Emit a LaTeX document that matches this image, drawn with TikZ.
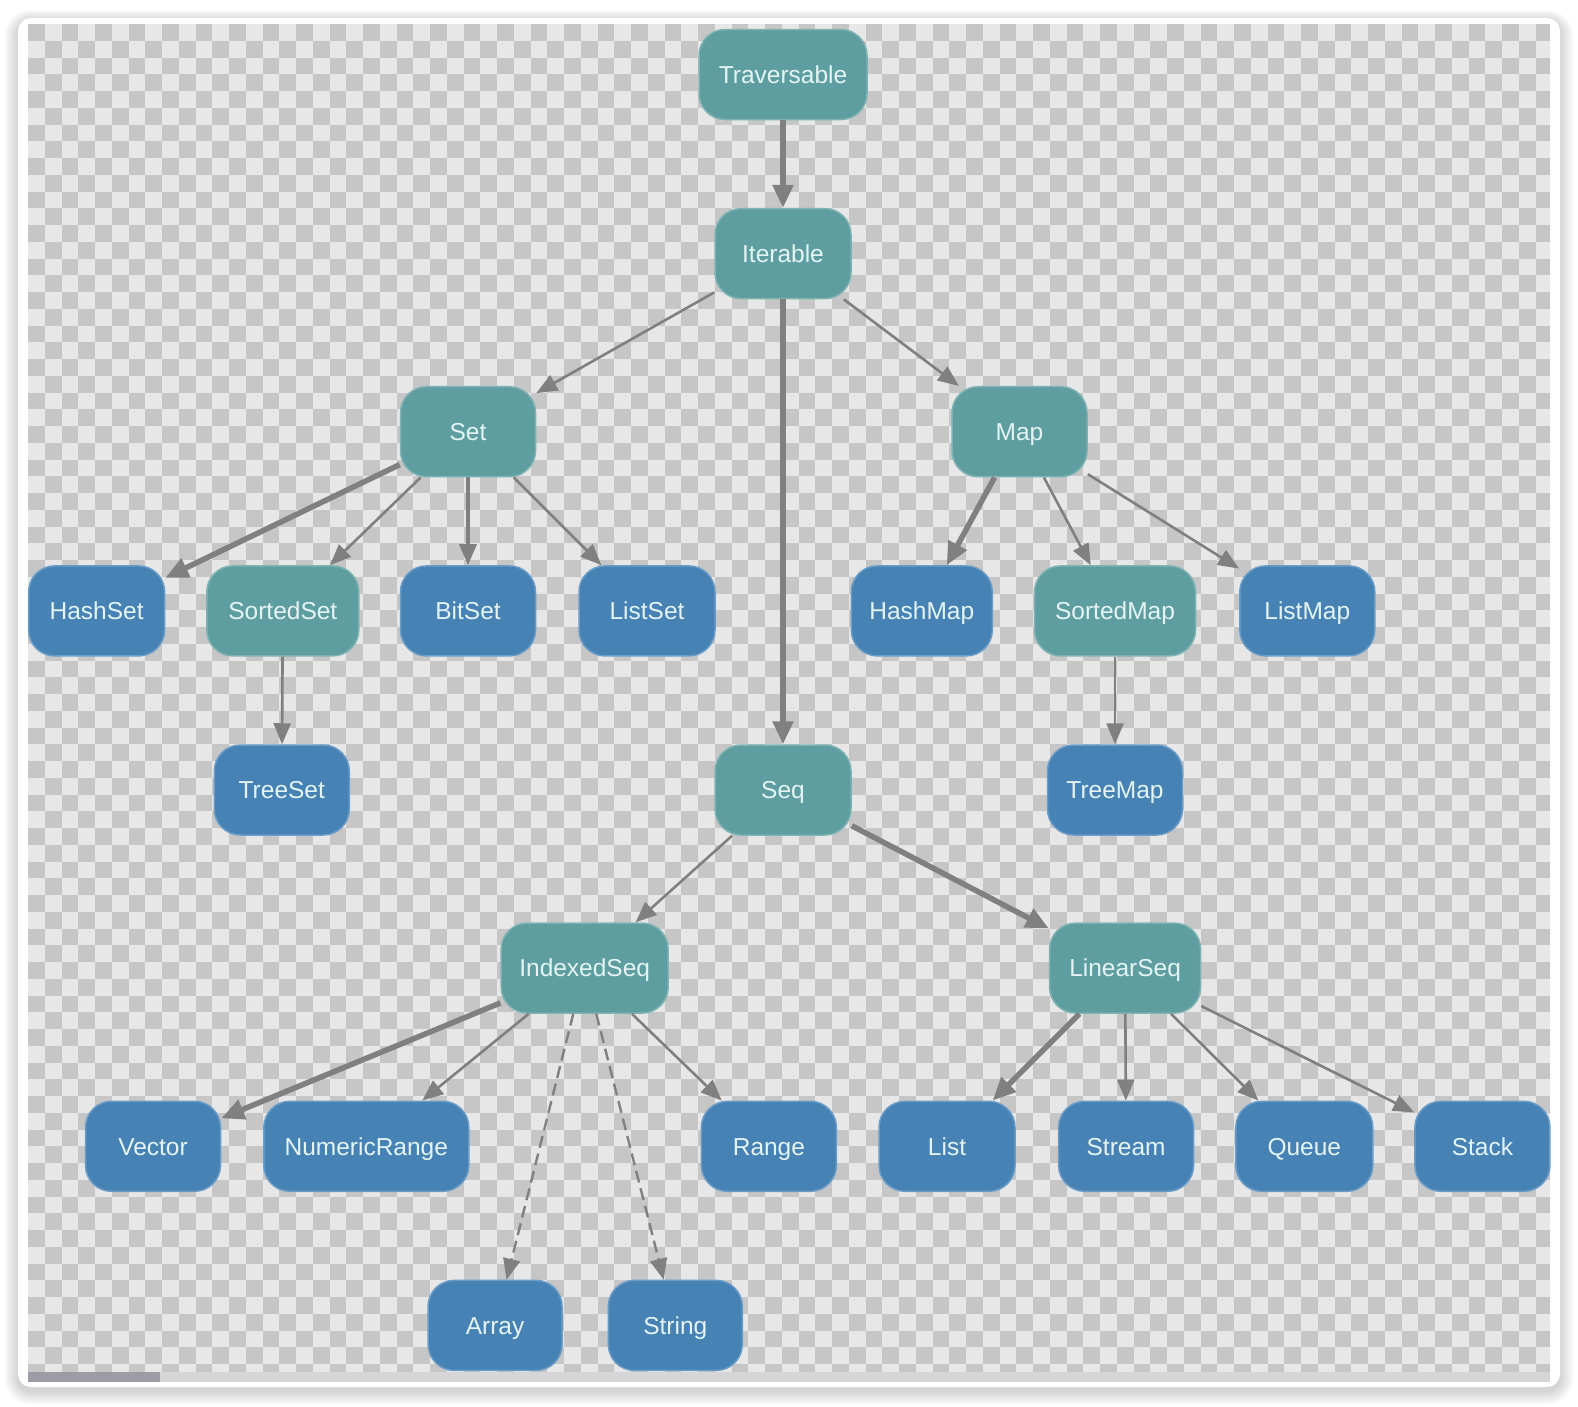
\documentclass[tikz,border=0pt]{standalone}
\usepackage{fontspec}
\setmainfont{Liberation Sans}
\usetikzlibrary{arrows.meta}

\definecolor{tealnode}{HTML}{5F9EA0}
\definecolor{tealedge}{HTML}{7FB3B3}
\definecolor{bluenode}{HTML}{4682B4}
\definecolor{blueedge}{HTML}{6A9CC8}
\definecolor{labeltext}{HTML}{E4F4F4}
\definecolor{linkgrey}{HTML}{808080}
\definecolor{checklight}{HTML}{E7E7E7}
\definecolor{checkdark}{HTML}{C6C6C6}
\definecolor{scrolltrack}{HTML}{D6D6D8}
\definecolor{scrollthumb}{HTML}{9C9CA6}

\tikzset{
  box/.style={rounded corners=26pt, minimum height=90pt, inner sep=0pt,
    line width=1.5pt, text=labeltext,
    text height=17.6pt, text depth=0pt,
    font=\fontsize{24.5}{28}\selectfont},
  traitbox/.style={box, fill=tealnode, draw=tealedge},
  classbox/.style={box, fill=bluenode, draw=blueedge},
  link/.style={draw=linkgrey, line width=2.6pt,
    -{Triangle[length=21pt,width=17pt]}},
  boldlink/.style={link, line width=5.5pt,
    -{Triangle[length=23pt,width=20pt]}},
  midlink/.style={link, line width=3.4pt},
  dashlink/.style={link, line width=2.4pt, dash pattern=on 12pt off 6pt},
}

\begin{document}
\begin{tikzpicture}[x=1pt,y=-1pt]
\useasboundingbox (0,0) rectangle (1578,1406);
\fill[white] (0,0) rectangle (1578,1406);

% soft shadow under the card
\foreach \k in {1,...,14}{
  \fill[black,opacity=0.011,rounded corners={(13+\k)*1pt}]
    ({18-\k},{21-\k*0.8}) rectangle ({1560+\k},{1391+\k});
}
% card
\fill[white,rounded corners=13pt] (18,18) rectangle (1560,1387);

% transparency checkerboard
\begin{scope}
  \clip (28,24) rectangle (1550,1372);
  \fill[checklight] (28,24) rectangle (1550,1372);
  \foreach \j in {0,...,80}{
    \foreach \i in {0,2,...,90}{
      \fill[checkdark] ({28+(\i+mod(\j,2))*16.75},{24+\j*16.75})
        rectangle +(16.75,16.75);
    }
  }
\end{scope}

% scroll bar
\fill[scrolltrack] (28,1372) rectangle (1550,1382);
\fill[scrollthumb] (28,1372) rectangle (160,1382);

% hierarchy
\node[traitbox, minimum width=168pt] (trav) at (783,74.5) {Traversable};
\node[traitbox, minimum width=136pt] (iter) at (783,253.6) {Iterable};

\node[traitbox, minimum width=135pt] (set) at (468,431.7) {Set};
\node[traitbox, minimum width=135pt] (map) at (1019.5,431.7) {Map};

\node[classbox, minimum width=136pt] (hashset) at (96.6,610.9) {HashSet};
\node[traitbox, minimum width=152pt] (sortedset) at (282.8,610.9) {SortedSet};
\node[classbox, minimum width=135pt] (bitset) at (468,610.9) {BitSet};
\node[classbox, minimum width=136pt] (listset) at (647,610.9) {ListSet};
\node[classbox, minimum width=141pt] (hashmap) at (921.8,610.9) {HashMap};
\node[traitbox, minimum width=161pt] (sortedmap) at (1115,610.9) {SortedMap};
\node[classbox, minimum width=135pt] (listmap) at (1307.3,610.9) {ListMap};

\node[classbox, minimum width=135pt] (treeset) at (281.8,790) {TreeSet};
\node[traitbox, minimum width=136pt] (seq) at (783,790) {Seq};
\node[classbox, minimum width=135pt] (treemap) at (1115,790) {TreeMap};

\node[traitbox, minimum width=167pt] (indexed) at (584.7,968.1) {IndexedSeq};
\node[traitbox, minimum width=151pt] (linear) at (1125.1,968.1) {LinearSeq};

\node[classbox, minimum width=135pt] (vector) at (153,1146.3) {Vector};
\node[classbox, minimum width=205pt] (numrange) at (366.3,1146.3) {NumericRange};
\node[classbox, minimum width=135pt] (range) at (768.9,1146.3) {Range};
\node[classbox, minimum width=136pt] (list) at (947,1146.3) {List};
\node[classbox, minimum width=135pt] (stream) at (1126.1,1146.3) {Stream};
\node[classbox, minimum width=137pt] (queue) at (1304.3,1146.3) {Queue};
\node[classbox, minimum width=135pt] (stack) at (1482.4,1146.3) {Stack};

\node[classbox, minimum width=134pt] (array) at (495.1,1325.4) {Array};
\node[classbox, minimum width=134pt] (string) at (675.3,1325.4) {String};

% inheritance links
\draw[boldlink] (trav) -- (iter);
\draw[link] (iter) -- (set);
\draw[link] (iter) -- (map);
\draw[boldlink] (iter) -- (seq);

\draw[boldlink] (set) -- (hashset);
\draw[link] (set) -- (sortedset);
\draw[midlink] (set) -- (bitset);
\draw[link] (set) -- (listset);
\draw[link] (sortedset) -- (treeset);

\draw[boldlink] (map) -- (hashmap);
\draw[link] (map) -- (sortedmap);
\draw[link] (map) -- (listmap);
\draw[link] (sortedmap) -- (treemap);

\draw[link] (seq) -- (indexed);
\draw[boldlink] (seq) -- (linear);

\draw[boldlink] (indexed) -- (vector);
\draw[link] (indexed) -- (numrange);
\draw[dashlink] (indexed) -- (array);
\draw[dashlink] (indexed) -- (string);
\draw[link] (indexed) -- (range);

\draw[boldlink] (linear) -- (list);
\draw[link] (linear) -- (stream);
\draw[link] (linear) -- (queue);
\draw[link] (linear) -- (stack);
\end{tikzpicture}
\end{document}
